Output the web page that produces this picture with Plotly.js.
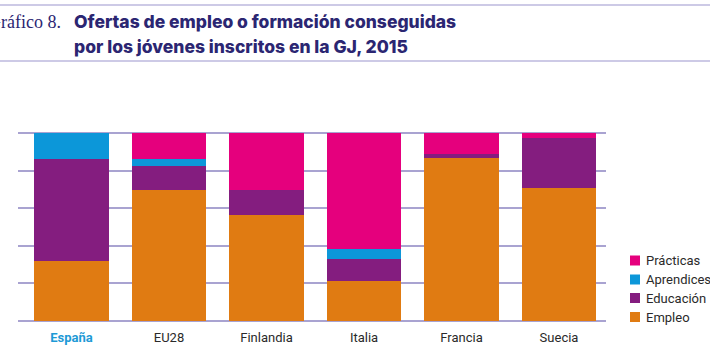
<!DOCTYPE html>
<html><head><meta charset="utf-8">
<script src="https://cdn.plot.ly/plotly-3.0.1.min.js"></script>
<style>html,body{margin:0;padding:0;background:#fff;}#chart{width:710px;height:357px;}</style>
</head><body><div id="chart"></div>
<script>
const categories = ["España", "EU28", "Finlandia", "Italia", "Francia", "Suecia"];
const empleo     = [31.9, 69.8, 56.6, 21.0, 86.8, 71.0];
const educacion  = [54.4, 12.9, 13.0, 12.1, 2.2, 26.3];
const aprendices = [13.7, 3.4, 0, 5.0, 0, 0];
const practicas  = [0, 13.9, 30.4, 61.9, 11.0, 2.7];
const seriesNames = ["Empleo", "Educación", "Aprendices", "Prácticas"];
const seriesColors = ["#E07B12", "#841D7F", "#0C97D9", "#E5007D"];
const tickLabels = ['<b><span style="color:#1E9AD6">España</span></b>', "EU28", "Finlandia", "Italia", "Francia", "Suecia"];

const W = 710, H = 357;
const M = {l: 18, r: 104, t: 130, b: 33};
const pw = W - M.l - M.r, ph = H - M.t - M.b;
const px = v => (v - M.l) / pw;
const py = v => (H - M.b - v) / ph;

const values = [empleo, educacion, aprendices, practicas];
const data = values.map((vals, i) => ({
  type: "bar", x: categories, y: vals, name: seriesNames[i],
  marker: {color: seriesColors[i], line: {width: 0}}, width: 0.76,
  hoverinfo: "skip", showlegend: false
}));

const shapes = [
  {type: "line", xref: "paper", yref: "paper", x0: px(-5), x1: px(715), y0: py(5), y1: py(5), line: {color: "#BDB8DE", width: 1.5}},
  {type: "line", xref: "paper", yref: "paper", x0: px(-5), x1: px(715), y0: py(61), y1: py(61), line: {color: "#BDB8DE", width: 1.5}}
];
const annotations = [
  {xref: "paper", yref: "paper", x: px(63), y: py(21.5), xanchor: "right", yanchor: "middle", showarrow: false,
   text: "Gráfico 8.", font: {family: "Liberation Serif", size: 18, color: "#2B2672"}},
  {xref: "paper", yref: "paper", x: px(72), y: py(21.5), xanchor: "left", yanchor: "middle", showarrow: false,
   text: "Ofertas de empleo o formación conseguidas", font: {family: "Inter", size: 17.5, weight: 800, color: "#2B2672"}},
  {xref: "paper", yref: "paper", x: px(72), y: py(46.5), xanchor: "left", yanchor: "middle", showarrow: false,
   text: "por los jóvenes inscritos en la GJ, 2015", font: {family: "Inter", size: 17.5, weight: 800, color: "#2B2672"}}
];
// manual legend (top entry = last series)
const legendRows = [260.5, 279.5, 298, 317];
for (let k = 0; k < seriesNames.length; k++) {
  const i = seriesNames.length - 1 - k;
  const cy = legendRows[k];
  shapes.push({type: "rect", xref: "paper", yref: "paper", x0: px(630), x1: px(640), y0: py(cy - 5), y1: py(cy + 5),
    fillcolor: seriesColors[i], line: {width: 0}});
  annotations.push({xref: "paper", yref: "paper", x: px(644), y: py(cy), xanchor: "left", yanchor: "middle",
    showarrow: false, text: seriesNames[i], font: {family: "Roboto", size: 13, color: "#2a2a2a"}});
}

const layout = {
  width: W, height: H, margin: M, paper_bgcolor: "#fff", plot_bgcolor: "#fff",
  barmode: "stack", showlegend: false,
  font: {family: "Roboto", size: 12.5, color: "#2a2a2a"},
  xaxis: {type: "category", range: [-0.549, 5.482], tickvals: categories, ticktext: tickLabels,
          showgrid: false, zeroline: false, showline: false, ticks: "", fixedrange: true, ticklabelstandoff: 4,
          tickfont: {family: "Roboto", size: 13, color: "#2a2a2a"}},
  yaxis: {range: [-1.76, 101.76], tickvals: [0, 20, 40, 60, 80, 100], showticklabels: false,
          showgrid: true, gridcolor: "#A9A3D1", gridwidth: 2, zeroline: false, showline: false, fixedrange: true},
  shapes: shapes, annotations: annotations
};
Plotly.newPlot("chart", data, layout, {staticPlot: true, displayModeBar: false});
</script></body></html>
